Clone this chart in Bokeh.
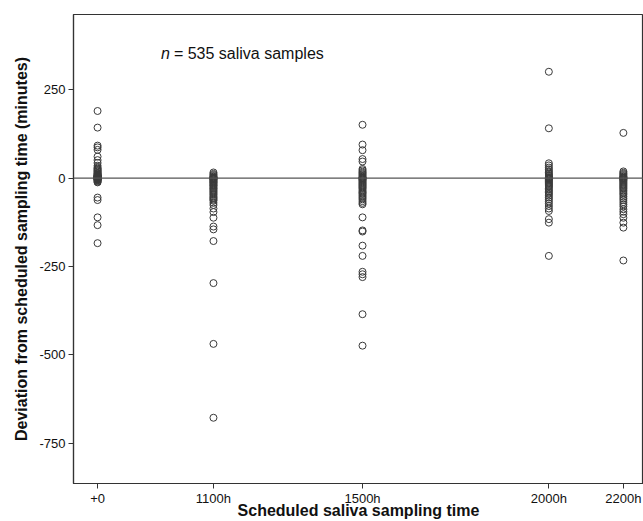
from bokeh.plotting import figure
from bokeh.models import ColumnDataSource, FixedTicker, Span, Label, Range1d
from bokeh.embed import file_html
from bokeh.resources import INLINE

# Scheduled sampling times (hours on the clock) and their tick labels
tick_positions = [7.89, 11, 15, 20, 22]
tick_labels = ["+0", "1100h", "1500h", "2000h", "2200h"]

# Deviation from scheduled sampling time (minutes) per sampling time
dev_wake = [190, 143, 92, 87, 80, 61, 51, 43, 35, 30, 27, 25, 22, 20, 18, 15, 14, 12,
            10, 9, 8, 7, 6, 5, 5, 4, 3, 3, 2, 2, 1, 1, 0, 0, 0, -1, -1, -2, -2, -3,
            -4, -5, -6, -8, -10, -12, -55, -62, -111, -133, -184]
dev_1100 = [16, 12, 9, 6, 4, 2, 1, 0, 0, -1, -2, -3, -5, -7, -9, -11, -13, -15, -18,
            -20, -22, -25, -28, -30, -33, -36, -39, -42, -45, -48, -52, -55, -58,
            -61, -64, -70, -76, -86, -96, -112, -137, -145, -178, -297, -469, -678]
dev_1500 = [151, 95, 79, 54, 47, 26, 22, 18, 15, 12, 9, 6, 3, 1, 0, 0, -2, -4, -6,
            -9, -12, -15, -18, -21, -24, -27, -30, -34, -38, -41, -44, -48, -52,
            -56, -60, -65, -70, -74, -111, -148, -151, -191, -220, -265, -272,
            -280, -385, -474]
dev_2000 = [301, 141, 42, 36, 30, 25, 20, 16, 12, 9, 6, 3, 1, 0, 0, -2, -4, -7, -10,
            -13, -16, -19, -22, -25, -29, -33, -37, -41, -45, -50, -55, -60, -66,
            -72, -79, -86, -93, -116, -126, -220]
dev_2200 = [128, 19, 15, 12, 9, 6, 4, 2, 0, 0, -1, -3, -5, -7, -10, -13, -16, -19,
            -22, -25, -28, -31, -35, -39, -43, -47, -52, -57, -62, -68, -74, -80,
            -88, -95, -102, -112, -126, -140, -233]

y_ticks = [-750, -500, -250, 0, 250]
y_tick_labels = ["-750", "-500", "-250", "0", "250"]

series = [dev_wake, dev_1100, dev_1500, dev_2000, dev_2200]
xs, ys = [], []
for pos, vals in zip(tick_positions, series):
    xs.extend([pos] * len(vals))
    ys.extend(vals)
src = ColumnDataSource(dict(x=xs, y=ys))

p = figure(width=643, height=521, output_backend="svg", toolbar_location=None,
           x_range=Range1d(7.244, 22.54), y_range=Range1d(-864, 463),
           min_border_left=73, min_border_top=14, min_border_right=0, min_border_bottom=30)

p.scatter("x", "y", source=src, marker="circle", size=7, fill_color=None,
          line_color="#3a3a3a", line_width=1)

p.add_layout(Span(location=0, dimension="width", line_color="#555555", line_width=1.2))

p.xgrid.visible = False
p.ygrid.visible = False
p.outline_line_color = "#333333"
p.outline_line_width = 1.2

p.xaxis.ticker = FixedTicker(ticks=tick_positions)
p.xaxis.major_label_overrides = {pos: lab for pos, lab in zip(tick_positions, tick_labels)}
p.yaxis.ticker = FixedTicker(ticks=y_ticks)
p.yaxis.major_label_overrides = {t: lab for t, lab in zip(y_ticks, y_tick_labels)}
p.xaxis.minor_tick_line_color = None
p.yaxis.minor_tick_line_color = None

for ax in (p.xaxis, p.yaxis):
    ax.axis_line_color = "#333333"
    ax.axis_line_width = 1.2
    ax.major_tick_line_color = "#333333"
    ax.major_tick_out = 5
    ax.major_tick_in = 0
    ax.major_label_text_font = "Liberation Sans"
    ax.major_label_text_font_size = "13px"
    ax.major_label_text_color = "#111111"
    ax.axis_label_text_font = "Liberation Sans"
    ax.axis_label_text_font_style = "bold"
    ax.axis_label_text_font_size = "16px"
    ax.axis_label_text_color = "#111111"

p.xaxis.axis_label = "Scheduled saliva sampling time"
p.yaxis.axis_label = "Deviation from scheduled sampling time (minutes)"
p.xaxis.major_label_standoff = 2
p.xaxis.axis_label_standoff = -7
p.yaxis.major_label_standoff = 3
p.yaxis.axis_label_standoff = 6

p.add_layout(Label(x=9.59, y=352, text="n", text_font="Liberation Sans",
                   text_font_style="italic", text_font_size="16px",
                   text_baseline="middle", text_color="#111111"))
p.add_layout(Label(x=9.59, y=352, x_offset=13, text="= 535 saliva samples",
                   text_font="Liberation Sans", text_font_size="16px",
                   text_baseline="middle", text_color="#111111"))

open("out.html", "w").write(file_html(p, INLINE))
